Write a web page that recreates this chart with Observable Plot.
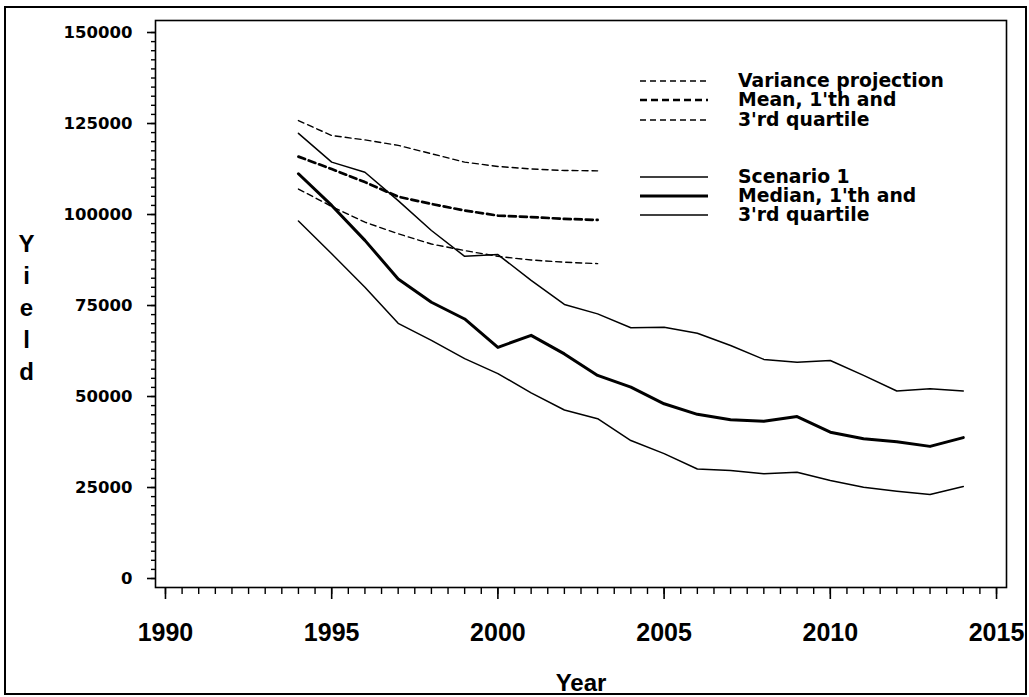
<!DOCTYPE html>
<html><head><meta charset="utf-8">
<script src="https://cdn.jsdelivr.net/npm/d3@7"></script>
<script src="https://cdn.jsdelivr.net/npm/@observablehq/plot@0.6"></script>
<style>
body{margin:0;background:#fff;}
#wrap{position:relative;width:1029px;height:697px;overflow:hidden;}
#border{position:absolute;left:4px;top:6px;width:1019px;height:685px;border:2px solid #000;pointer-events:none;}
</style></head>
<body><div id="wrap"><div id="chart"></div><div id="border"></div></div>
<script>
// ---- data ----
const projYears = [1994,1995,1996,1997,1998,1999,2000,2001,2002,2003];
const varUpper  = [125800,121700,120500,119000,116700,114400,113200,112500,112100,112000];
const varMean   = [115900,112500,108900,104900,102900,101100,99700,99300,98800,98500];
const varLower  = [107000,102200,97900,94700,91900,90100,88500,87500,86900,86500];

const scenYears  = [1994,1995,1996,1997,1998,1999,2000,2001,2002,2003,2004,2005,2006,2007,2008,2009,2010,2011,2012,2013,2014];
const scenUpper  = [122300,114400,111600,103800,95600,88500,89000,81900,75300,72700,68900,69000,67400,64000,60200,59400,59900,55800,51500,52100,51500];
const scenMedian = [111200,102500,92900,82300,75900,71300,63500,66800,61700,55800,52600,48000,45100,43600,43200,44500,40200,38400,37600,36300,38700];
const scenLower  = [98200,89200,80000,70100,65400,60400,56300,51000,46300,43900,37900,34300,30100,29700,28800,29200,26900,25100,24000,23100,25300];

const yMajorTicks = [0,25000,50000,75000,100000,125000,150000];
const xMajorTicks = [1990,1995,2000,2005,2010,2015];
const yMinorTicks = d3.range(0, 150001, 2500);
const xMinorTicks = d3.range(1990, 2015.01, 0.5);

const legendDashed = ["Variance projection", "Mean, 1'th and", "3'rd quartile"];
const legendSolid  = ["Scenario 1", "Median, 1'th and", "3'rd quartile"];
const yLabel = "Yield";
const xLabel = "Year";

const rows = (xs, vs) => xs.map((x, i) => ({year: x, value: vs[i]}));

const chart = Plot.plot({
  width: 1029, height: 697,
  marginLeft: 155, marginRight: 23, marginTop: 20, marginBottom: 110,
  x: {domain: [1989.7, 2015.3]},
  y: {domain: [-2470, 153300]},
  style: {fontFamily: "'DejaVu Sans', sans-serif", color: "#000", background: "transparent", overflow: "visible"},
  marks: [
    Plot.frame({stroke: "#000", strokeWidth: 1.6}),
    Plot.axisY({ticks: yMinorTicks, tickSize: 4, strokeWidth: 1.4, tickFormat: () => "", label: null}),
    Plot.axisY({ticks: yMajorTicks, tickSize: 8, strokeWidth: 1.6, tickPadding: 15, fontSize: 16.5, fontWeight: "bold",
                fontFamily: "'DejaVu Sans', sans-serif", tickFormat: d => String(d), label: null}),
    Plot.axisX({ticks: xMinorTicks, tickSize: 7, strokeWidth: 1.4, tickFormat: () => "", label: null}),
    Plot.axisX({ticks: xMajorTicks, tickSize: 12, strokeWidth: 1.6, tickPadding: 24, fontSize: 25, fontWeight: "bold",
                fontFamily: "'Liberation Sans', Arial, sans-serif", tickFormat: d => String(d), label: null}),
    Plot.text([xLabel], {frameAnchor: "bottom", dy: 103, lineAnchor: "bottom", fontSize: 24, fontWeight: "bold",
                fontFamily: "'Liberation Sans', Arial, sans-serif", fill: "#000"}),
    Plot.text([yLabel.split("").join("\n")], {frameAnchor: "left", dx: -129, dy: 2, lineHeight: 1.33, textAnchor: "middle",
                fontSize: 24, fontWeight: "bold", fontFamily: "'Liberation Sans', Arial, sans-serif", fill: "#000"}),
    // variance projection (dashed)
    Plot.line(rows(projYears, varUpper), {x: "year", y: "value", stroke: "#000", strokeWidth: 1.4, strokeDasharray: "6,4"}),
    Plot.line(rows(projYears, varMean),  {x: "year", y: "value", stroke: "#000", strokeWidth: 2.7, strokeDasharray: "7,4"}),
    Plot.line(rows(projYears, varLower), {x: "year", y: "value", stroke: "#000", strokeWidth: 1.4, strokeDasharray: "6,4"}),
    // scenario 1 (solid)
    Plot.line(rows(scenYears, scenUpper),  {x: "year", y: "value", stroke: "#000", strokeWidth: 1.5}),
    Plot.line(rows(scenYears, scenMedian), {x: "year", y: "value", stroke: "#000", strokeWidth: 3}),
    Plot.line(rows(scenYears, scenLower),  {x: "year", y: "value", stroke: "#000", strokeWidth: 1.5})
  ]
});
document.getElementById("chart").appendChild(chart);

// ---- legend (inside plot, top right) ----
const svg = d3.select(chart);
const lg = svg.append("g").attr("font-family", "'DejaVu Sans', sans-serif").attr("font-weight", "bold")
  .attr("font-size", 18.8).attr("text-anchor", "start");
const dashedStyles = [{w: 1.4, d: "6,4"}, {w: 2.7, d: "7,4"}, {w: 1.4, d: "6,4"}];
const solidStyles = [{w: 1.5}, {w: 3}, {w: 1.5}];
const dashedY = [81, 100, 120];
const solidY = [177, 196, 215];
legendDashed.forEach((t, i) => {
  lg.append("line").attr("x1", 640).attr("x2", 708).attr("y1", dashedY[i]).attr("y2", dashedY[i])
    .attr("stroke", "#000").attr("stroke-width", dashedStyles[i].w).attr("stroke-dasharray", dashedStyles[i].d);
  lg.append("text").attr("x", 738).attr("y", dashedY[i]).attr("dy", "0.33em").attr("fill", "#000")
    .attr("text-anchor", "start").text(t);
});
legendSolid.forEach((t, i) => {
  lg.append("line").attr("x1", 640).attr("x2", 708).attr("y1", solidY[i]).attr("y2", solidY[i])
    .attr("stroke", "#000").attr("stroke-width", solidStyles[i].w);
  lg.append("text").attr("x", 738).attr("y", solidY[i]).attr("dy", "0.33em").attr("fill", "#000")
    .attr("text-anchor", "start").text(t);
});
</script>
</body></html>
